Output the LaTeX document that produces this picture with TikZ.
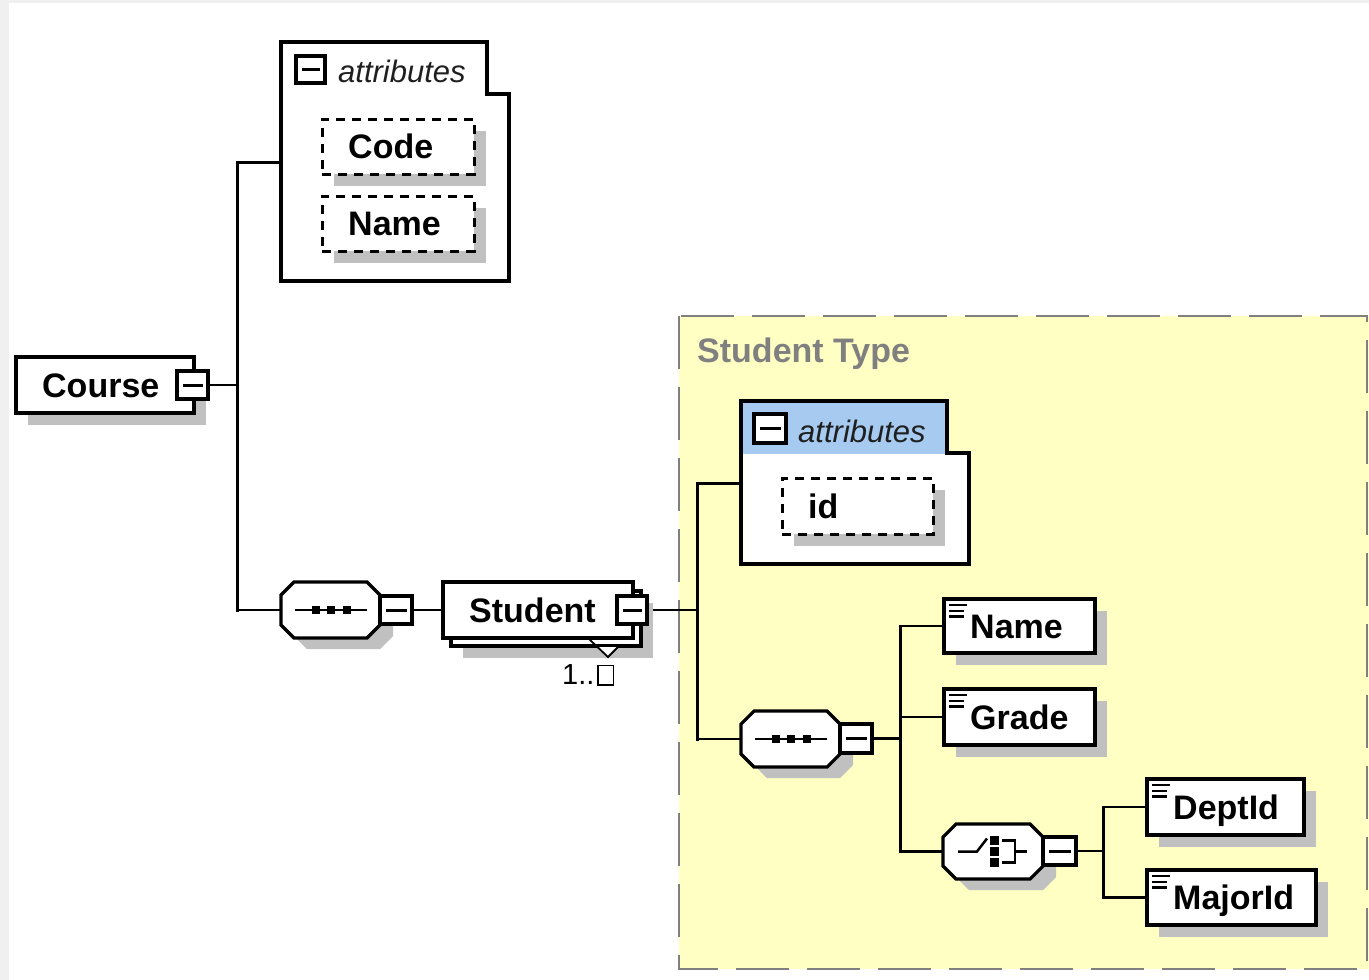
\documentclass[tikz,border=0pt]{standalone}
\usepackage{fontspec}
\setmainfont{Liberation Sans}

\definecolor{panelgray}{HTML}{F0F0F0}
\definecolor{shadowgray}{HTML}{C0C0C0}
\definecolor{typefill}{HTML}{FFFFC4}
\definecolor{typeline}{HTML}{808080}
\definecolor{attrhead}{HTML}{A6CAF0}

\pgfdeclarelayer{backdrop}
\pgfdeclarelayer{wires}
\pgfsetlayers{backdrop,wires,main}

\tikzset{
  boxoutline/.style={draw=black, line width=3.2pt},
  elembox/.style={boxoutline, fill=white, rectangle, inner sep=0pt},
  attrbox/.style={draw=black, fill=white, line width=3pt, dash pattern=on 9pt off 7pt, rectangle, inner sep=0pt},
  anchorbox/.style={rectangle, inner sep=0pt, outer sep=0pt},
  dropshadow/.style={fill=shadowgray},
  nametext/.style={inner sep=0pt, font=\fontsize{34}{40}\selectfont\bfseries},
  attrtitle/.style={inner sep=0pt, text=black!88, font=\fontsize{31}{36}\selectfont\itshape},
  hwire/.style={draw=black, line width=2.5pt},
  vwire/.style={draw=black, line width=3pt, line cap=rect},
}

% hollow box standing in for the unbounded bound
\newcommand\nobound{{\fboxrule=1.5pt\fboxsep=0pt\fbox{\rule{0pt}{18pt}\hspace{14pt}}}}

% element box with drop shadow and its name: node, x1, y1, x2, y2, text
\newcommand\xsdelement[6]{%
  \fill[dropshadow] (#2+12,#3+12) rectangle (#4+12,#5+12);
  \node[elembox, minimum width=#4-#2, minimum height=#5-#3] (#1) at ({(#2+#4)/2},{(#3+#5)/2}) {};
  \node[nametext, anchor=base west] (#1-label) at (#2+26,{(#3+#5)/2+12}) {#6};}

% the three-bar mark of a simple-typed element: x1, y1 of its box
\newcommand\xsdsimple[2]{%
  \draw[line width=2.8pt] (#1+5,#2+6) -- (#1+23,#2+6)
    (#1+5,#2+12) -- (#1+20,#2+12) (#1+5,#2+17.5) -- (#1+20,#2+17.5);}

% dashed attribute box: node, x1, y1, x2, y2, text
\newcommand\xsdattr[6]{%
  \fill[dropshadow] (#2+12,#3+12) rectangle (#4+12,#5+12);
  \node[attrbox, minimum width=#4-#2, minimum height=#5-#3] (#1) at ({(#2+#4)/2},{(#3+#5)/2}) {};
  \node[nametext, anchor=base west] (#1-label) at (#2+26,{(#3+#5)/2+12}) {#6};}

% collapse button: node, x1, y1, x2, y2
\newcommand\xsdminus[5]{%
  \node[elembox, minimum width=#4-#2, minimum height=#5-#3] (#1) at ({(#2+#4)/2},{(#3+#5)/2}) {};
  \draw[line width=3pt] (#2+6,{(#3+#5)/2}) -- (#4-5,{(#3+#5)/2});}

% chamfered compositor outline: style, x1, y1, x2, y2
\newcommand\xsdoct[5]{%
  \path[#1] (#2+13,#3) -- (#4-13,#3) -- (#4,#3+13) -- (#4,#5-13) -- (#4-13,#5)
    -- (#2+13,#5) -- (#2,#5-13) -- (#2,#3+13) -- cycle;}

% compositor with shadow: node, x1, y1, x2, y2
\newcommand\xsdgroup[5]{%
  \xsdoct{dropshadow}{#2+13}{#3+11}{#4+13}{#5+11}
  \xsdoct{boxoutline, fill=white}{#2}{#3}{#4}{#5}
  \node[anchorbox, minimum width=#4-#2, minimum height=#5-#3] (#1) at ({(#2+#4)/2},{(#3+#5)/2}) {};}

% sequence mark inside a compositor
\newcommand\seqicon[1]{%
  \draw[line width=2.5pt] ([xshift=14pt]#1.west) -- ([xshift=-13pt]#1.east);
  \foreach \dx in {-14.5,0.5,16.5}
    \fill ([xshift=\dx pt]#1.center) +(-4.2,-4.2) rectangle +(4.2,4.2);}

% choice mark inside a compositor
\newcommand\choiceicon[1]{%
  \draw[line width=2.5pt] ([xshift=-35pt]#1.center) -- ([xshift=-16pt]#1.center)
    -- ([shift={(-6pt,13pt)}]#1.center);
  \foreach \dy in {11,0,-11}
    \fill ([shift={(1.5pt,\dy pt)}]#1.center) +(-4.2,-4.2) rectangle +(4.2,4.2);
  \draw[line width=2.5pt] ([shift={(9pt,11pt)}]#1.center) -- ([shift={(22pt,11pt)}]#1.center)
    -- ([shift={(22pt,-11pt)}]#1.center) -- ([shift={(9pt,-11pt)}]#1.center)
    ([xshift=22pt]#1.center) -- ([xshift=34pt]#1.center);}

\begin{document}
\begin{tikzpicture}[x=1pt,y=-1pt]
\useasboundingbox (0,0) rectangle (1369,980);

\begin{pgfonlayer}{backdrop}
  \fill[panelgray] (0,0) rectangle (1369,980);
  \fill[white] (9,3) rectangle (1369,980);
  \fill[typefill] (679,316) rectangle (1369,969);
  \draw[typeline, line width=2.8pt, dash pattern=on 53pt off 18pt]
    (681,316) -- (1367,316) -- (1367,969) -- (679,969) -- (679,316);
\end{pgfonlayer}

% complex type title
\node[nametext, text=typeline, anchor=base west] (typename) at (697,362) {Student Type};

% root element
\xsdelement{course}{16}{357}{194}{413}{Course}
\xsdminus{course-c}{177}{371}{208}{399}

% attributes of Course
\draw[boxoutline, fill=white] (281,42) -- (487,42) -- (487,94) -- (509,94) -- (509,281) -- (281,281) -- cycle;
\node[anchorbox, minimum width=228, minimum height=239] (attrs1) at (395,162.5) {};
\xsdminus{attrs1-c}{296}{56}{325}{83}
\node[attrtitle, anchor=base west] (attrs1-title) at (338,82) {attributes};
\xsdattr{code}{322}{119}{474}{174}{Code}
\xsdattr{cname}{322}{196}{474}{251}{Name}

% sequence under Course
\xsdgroup{seq1}{281}{582}{380}{638}
\seqicon{seq1}
\xsdminus{seq1-c}{380}{596}{412}{624}

% repeated Student element
\fill[dropshadow] (463,603) rectangle (653,658);
\node[elembox, minimum width=190, minimum height=55] (student-back) at (546,618.5) {};
\node[elembox, minimum width=190, minimum height=56] (student) at (538,610) {};
\node[nametext, anchor=base west] (student-label) at (469,622) {Student};
\xsdminus{student-c}{617}{596}{647}{624}
\fill[white] (598,647) -- (608,657) -- (618,647) -- cycle;
\draw[line width=1.8pt] (589,639) -- (608,657) -- (618,647);
\node[inner sep=0pt, anchor=base west, font=\fontsize{29}{34}\selectfont] (student-occurs) at (562,684)
  {1..\hspace{3pt}\nobound};

% attributes of Student Type
\fill[white] (741,401) -- (947,401) -- (947,453) -- (969,453) -- (969,564) -- (741,564) -- cycle;
\fill[attrhead] (741,401) rectangle (947,454);
\draw[boxoutline] (741,401) -- (947,401) -- (947,453) -- (969,453) -- (969,564) -- (741,564) -- cycle;
\node[anchorbox, minimum width=228, minimum height=163] (attrs2) at (855,483.5) {};
\xsdminus{attrs2-c}{754}{414}{786}{443}
\node[attrtitle, anchor=base west] (attrs2-title) at (798,442) {attributes};
\xsdattr{sid}{782}{478}{933}{534}{id}

% sequence of Student Type
\xsdgroup{seq2}{741}{711}{840}{767}
\seqicon{seq2}
\xsdminus{seq2-c}{840}{724}{872}{753}

\xsdelement{sname}{944}{599}{1095}{653}{Name}
\xsdsimple{944}{599}
\xsdelement{grade}{944}{689}{1095}{745}{Grade}
\xsdsimple{944}{689}

% choice
\xsdgroup{choice}{943}{824}{1043}{879}
\choiceicon{choice}
\xsdminus{choice-c}{1043}{837}{1076}{865}

\xsdelement{dept}{1147}{779}{1304}{835}{DeptId}
\xsdsimple{1147}{779}
\xsdelement{major}{1147}{870}{1316}{925}{MajorId}
\xsdsimple{1147}{870}

% connectors
\begin{pgfonlayer}{wires}
  \coordinate (trunkA) at (237,0);
  \coordinate (trunkB) at (697,0);
  \coordinate (trunkC) at (900,0);
  \coordinate (trunkD) at (1103,0);
  \draw[hwire] (course-c.east) -- (trunkA |- course-c.east);
  \draw[vwire] (trunkA |- attrs1.west) -- (trunkA |- seq1.west);
  \draw[hwire] (trunkA |- attrs1.west) -- (attrs1.west);
  \draw[hwire] (trunkA |- seq1.west) -- (seq1.west);
  \draw[hwire] (seq1-c.east) -- (student.west);
  \draw[hwire] (student-c.east) -- (trunkB |- student-c.east);
  \draw[vwire] (trunkB |- attrs2.west) -- (trunkB |- seq2.west);
  \draw[hwire] (trunkB |- attrs2.west) -- (attrs2.west);
  \draw[hwire] (trunkB |- seq2.west) -- (seq2.west);
  \draw[hwire] (seq2-c.east) -- (trunkC |- seq2-c.east);
  \draw[vwire] (trunkC |- sname.west) -- (trunkC |- choice.west);
  \draw[hwire] (trunkC |- sname.west) -- (sname.west);
  \draw[hwire] (trunkC |- grade.west) -- (grade.west);
  \draw[hwire] (trunkC |- choice.west) -- (choice.west);
  \draw[hwire] (choice-c.east) -- (trunkD |- choice-c.east);
  \draw[vwire] (trunkD |- dept.west) -- (trunkD |- major.west);
  \draw[hwire] (trunkD |- dept.west) -- (dept.west);
  \draw[hwire] (trunkD |- major.west) -- (major.west);
\end{pgfonlayer}
\end{tikzpicture}
\end{document}
